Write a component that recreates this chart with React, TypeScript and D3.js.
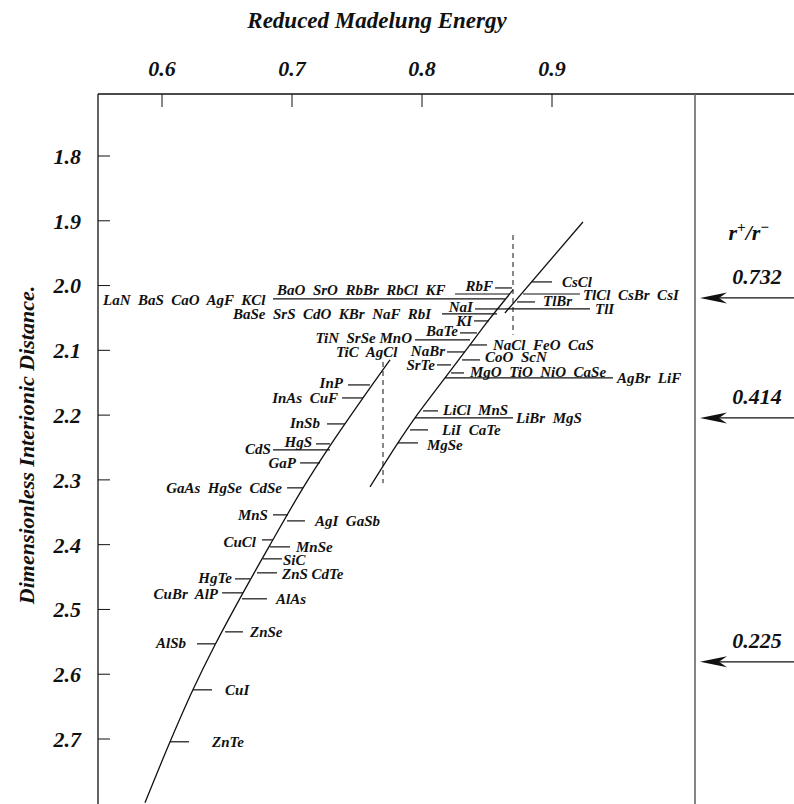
import React from "react";
import * as d3 from "d3";

// ---------- data ----------
const xTicks = [0.6, 0.7, 0.8, 0.9];
const yTicks = [1.8, 1.9, 2.0, 2.1, 2.2, 2.3, 2.4, 2.5, 2.6, 2.7];

// curves: [reduced Madelung energy, dimensionless interionic distance]
const leftCurve: [number, number][] = [
  [0.5869, 2.7985], [0.6062, 2.7043], [0.6238, 2.6241], [0.6408, 2.5546],
  [0.6623, 2.4744], [0.6831, 2.4003], [0.7085, 2.3123], [0.7292, 2.2475],
  [0.7546, 2.1735], [0.7754, 2.1148],
];
const rightCurve: [number, number][] = [
  [0.76, 2.3108], [0.7815, 2.2429], [0.7946, 2.2043], [0.8177, 2.1426],
  [0.8369, 2.0917], [0.8508, 2.0546], [0.87, 2.0068],
];
const upperCurve: [number, number][] = [
  [0.8638, 2.0423], [0.9238, 1.9019],
];

// dashed verticals
const dashE = [0.77, 0.87];
const dashD0 = [2.118, 1.922];
const dashD1 = [2.305, 2.076];

// leader lines: distance, energy start, energy end
const leaderD = [
  2.0207, 2.013, 2.0037, 2.0361, 2.0438, 2.0546, 2.0731, 2.084, 2.1025, 2.1225,
  2.0917, 2.1148, 2.1349, 2.1426, 2.1935, 2.2043, 2.2228, 2.2429,
  2.1534, 2.1735, 2.2136, 2.2444, 2.2537, 2.2738, 2.3123, 2.354, 2.3633, 2.3926,
  2.4034, 2.4219, 2.4435, 2.4528, 2.4744, 2.4836, 2.5346, 2.5531, 2.6241, 2.7043,
  1.9944, 2.013, 2.0253, 2.0361,
];
const leaderE0 = [
  0.6854, 0.8254, 0.8562, 0.8408, 0.8154, 0.84, 0.8292, 0.7946, 0.8192, 0.8115,
  0.8369, 0.8308, 0.8223, 0.8177, 0.8008, 0.7946, 0.7908, 0.7815,
  0.7431, 0.7385, 0.7269, 0.7185, 0.6854, 0.7062, 0.6962, 0.6854, 0.6962, 0.6769,
  0.6831, 0.6777, 0.6731, 0.6562, 0.6462, 0.6615, 0.6485, 0.6269, 0.6238, 0.6062,
  0.8846, 0.8777, 0.8731, 0.8638,
];
const leaderE1 = [
  0.8638, 0.8677, 0.8692, 0.8638, 0.8577, 0.8515, 0.8423, 0.8369, 0.8331, 0.8223,
  0.85, 0.8446, 0.8323, 0.9469, 0.8123, 0.87, 0.8046, 0.7969,
  0.76, 0.7546, 0.7408, 0.7292, 0.7292, 0.7215, 0.7085, 0.6969, 0.71, 0.6854,
  0.6985, 0.6923, 0.6885, 0.6677, 0.6623, 0.6808, 0.6623, 0.6408, 0.6385, 0.6208,
  0.9, 0.9215, 0.8869, 0.9292,
];

// compound labels
const labelText = [
  "LaN  BaS  CaO  AgF  KCl", "BaO  SrO  RbBr  RbCl  KF", "BaSe  SrS  CdO  KBr  NaF  RbI",
  "RbF", "NaI", "KI", "BaTe", "TiN  SrSe MnO", "TiC  AgCl", "NaBr", "SrTe",
  "NaCl  FeO  CaS", "CoO  ScN", "MgO  TiO  NiO  CaSe", "AgBr  LiF",
  "LiCl  MnS", "LiBr  MgS", "LiI  CaTe", "MgSe",
  "InP", "InAs  CuF", "InSb", "HgS", "CdS", "GaP", "GaAs  HgSe  CdSe", "MnS",
  "AgI  GaSb", "CuCl", "MnSe", "SiC", "ZnS CdTe", "HgTe", "CuBr  AlP", "AlAs",
  "ZnSe", "AlSb", "CuI", "ZnTe",
  "CsCl", "TlCl  CsBr  CsI", "TlBr", "TlI",
];
const labelE = [
  0.5546, 0.6885, 0.6546,
  0.8546, 0.8392, 0.8385, 0.8277, 0.7923, 0.7338, 0.8177, 0.81,
  0.8546, 0.8485, 0.8369, 0.95,
  0.8162, 0.8723, 0.8154, 0.8038,
  0.7392, 0.7354, 0.7215, 0.7154, 0.6838, 0.7031, 0.6923, 0.6815,
  0.7177, 0.6723, 0.7031, 0.6931, 0.6923, 0.6538, 0.6431, 0.6877,
  0.6677, 0.6185, 0.6485, 0.6385,
  0.9077, 0.9238, 0.8931, 0.9331,
];
const labelD = [
  2.0222, 2.0068, 2.0438,
  2.0006, 2.0331, 2.0546, 2.0701, 2.0809, 2.1025, 2.1010, 2.1225,
  2.0917, 2.1102, 2.1333, 2.1426,
  2.192, 2.2043, 2.2228, 2.246,
  2.1503, 2.1735, 2.212, 2.2414, 2.2522, 2.2738, 2.3123, 2.354,
  2.3633, 2.3957, 2.4034, 2.4235, 2.4451, 2.4512, 2.4759, 2.4836,
  2.5346, 2.5515, 2.6241, 2.7043,
  1.9944, 2.0145, 2.0238, 2.0361,
];
const labelAnchor = [
  "start", "start", "start",
  "end", "end", "end", "end", "end", "start", "end", "end",
  "start", "start", "start", "start",
  "start", "start", "start", "start",
  "end", "end", "end", "end", "end", "end", "end", "end",
  "start", "end", "start", "start", "start", "end", "end", "start",
  "start", "end", "start", "start",
  "start", "start", "start", "start",
];

// radius-ratio markers
const ratioLabels = ["0.732", "0.414", "0.225"];
const ratioD = [2.0191, 2.2043, 2.5809];

// ---------- layout ----------
const W = 794;
const H = 804;
const FRAME_LEFT = 98;
const FRAME_TOP = 94;
const FRAME_RIGHT = 695;
const FONT = "'Liberation Serif', 'Times New Roman', Times, serif";
const INK = "#111";

export default function App() {
  const x = d3.scaleLinear().domain([0.6, 0.9]).range([162, 552]);
  const y = d3.scaleLinear().domain([1.8, 2.7]).range([156, 739]);
  const line = d3
    .line<[number, number]>()
    .x((p) => x(p[0]))
    .y((p) => y(p[1]))
    .curve(d3.curveCatmullRom.alpha(0.5));

  const textStyle = {
    fontFamily: FONT,
    fontWeight: "bold" as const,
    fontStyle: "italic" as const,
    fill: INK,
  };

  return (
    <svg
      width={W}
      height={H}
      style={{ position: "absolute", left: 0, top: 0, background: "#fff" }}
    >
      {/* title */}
      <text x={377} y={28} textAnchor="middle" fontSize={23} {...textStyle}>
        Reduced Madelung Energy
      </text>

      {/* frame */}
      <line x1={FRAME_LEFT} y1={FRAME_TOP} x2={W} y2={FRAME_TOP} stroke={INK} strokeWidth={1.3} />
      <line x1={FRAME_LEFT} y1={FRAME_TOP} x2={FRAME_LEFT} y2={H} stroke={INK} strokeWidth={1.3} />
      <line x1={FRAME_RIGHT} y1={FRAME_TOP} x2={FRAME_RIGHT} y2={H} stroke="#666" strokeWidth={1.6} />

      {/* x ticks */}
      {xTicks.map((t) => (
        <g key={"xt" + t}>
          <line x1={x(t)} y1={FRAME_TOP} x2={x(t)} y2={FRAME_TOP + 13} stroke={INK} strokeWidth={1} />
          <text x={x(t)} y={76} textAnchor="middle" fontSize={22} {...textStyle}>
            {d3.format(".1f")(t)}
          </text>
        </g>
      ))}

      {/* y ticks */}
      {yTicks.map((t) => (
        <g key={"yt" + t}>
          <line x1={FRAME_LEFT} y1={y(t)} x2={FRAME_LEFT + 12} y2={y(t)} stroke={INK} strokeWidth={1} />
          <text x={81} y={y(t)} dy="0.36em" textAnchor="end" fontSize={22} {...textStyle}>
            {d3.format(".1f")(t)}
          </text>
        </g>
      ))}

      {/* y axis title */}
      <text
        transform={`translate(34, 445) rotate(-90)`}
        textAnchor="middle"
        fontSize={22}
        {...textStyle}
      >
        Dimensionless Interionic Distance.
      </text>

      {/* curves */}
      <path d={line(leftCurve) || ""} fill="none" stroke={INK} strokeWidth={1.3} />
      <path d={line(rightCurve) || ""} fill="none" stroke={INK} strokeWidth={1.3} />
      <path d={line(upperCurve) || ""} fill="none" stroke={INK} strokeWidth={1.3} />

      {/* dashed verticals */}
      {dashE.map((e, i) => (
        <line
          key={"dash" + i}
          x1={x(e)}
          x2={x(e)}
          y1={y(dashD0[i])}
          y2={y(dashD1[i])}
          stroke={INK}
          strokeWidth={1}
          strokeDasharray="5,4"
        />
      ))}

      {/* leader lines */}
      {leaderD.map((d, i) => (
        <line
          key={"ld" + i}
          x1={x(leaderE0[i])}
          x2={x(leaderE1[i])}
          y1={y(d)}
          y2={y(d)}
          stroke={INK}
          strokeWidth={1.2}
        />
      ))}

      {/* compound labels */}
      {labelText.map((t, i) => (
        <text
          key={"lb" + i}
          x={x(labelE[i])}
          y={y(labelD[i])}
          dy="0.35em"
          textAnchor={labelAnchor[i]}
          fontSize={15}
          style={{ whiteSpace: "pre" }}
          {...textStyle}
        >
          {t}
        </text>
      ))}

      {/* radius ratio header */}
      <text x={749} y={240} textAnchor="middle" fontSize={22} {...textStyle}>
        r
        <tspan dy={-8} fontSize={15}>+</tspan>
        <tspan dy={8}>/r</tspan>
        <tspan dy={-8} fontSize={15}>−</tspan>
      </text>

      {/* arrows */}
      {ratioLabels.map((lab, i) => {
        const yy = y(ratioD[i]);
        const tip = FRAME_RIGHT + 5;
        return (
          <g key={"ar" + i}>
            <line x1={tip + 10} y1={yy} x2={W} y2={yy} stroke={INK} strokeWidth={1.3} />
            <path
              d={`M${tip},${yy} L${tip + 27},${yy - 5.5} L${tip + 19},${yy} L${tip + 27},${yy + 5.5} Z`}
              fill={INK}
            />
            <text x={757} y={yy - 14} textAnchor="middle" fontSize={22} {...textStyle}>
              {lab}
            </text>
          </g>
        );
      })}
    </svg>
  );
}
